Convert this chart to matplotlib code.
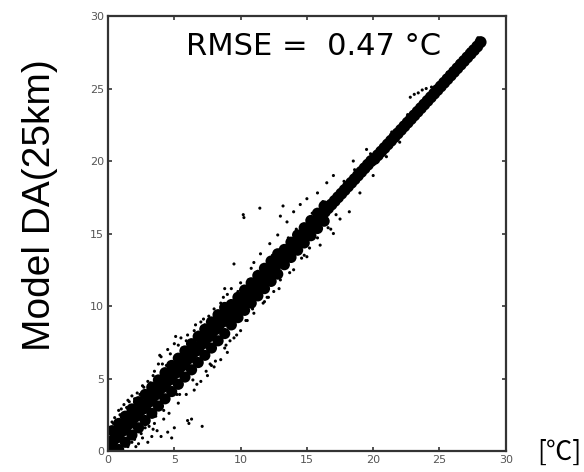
import matplotlib
matplotlib.use("Agg")
import matplotlib.pyplot as plt

# --- data read from the picture (observed vs model, deg C) ---
# centre of the dense band
obs_core = [0.1, 0.35, 0.6, 0.85, 1.1, 1.35, 1.6, 1.85, 2.1, 2.35, 2.6, 2.85, 3.1, 3.35,
            3.6, 3.85, 4.1, 4.35, 4.6, 4.85, 5.1, 5.35, 5.6, 5.85, 6.1, 6.35, 6.6, 6.85,
            7.1, 7.35, 7.6, 7.85, 8.1, 8.35, 8.6, 8.85, 9.1, 9.35, 9.6, 9.85, 10.1, 10.35,
            10.6, 10.85, 11.1, 11.35, 11.6, 11.85, 12.1, 12.35, 12.6, 12.85, 13.1, 13.35,
            13.6, 13.85, 14.1, 14.35, 14.6, 14.85, 15.1, 15.35, 15.6, 15.85, 16.1, 16.35,
            16.6, 16.85, 17.1, 17.35, 17.6, 17.85, 18.1, 18.35, 18.6, 18.85, 19.1, 19.35,
            19.6, 19.85, 20.1, 20.35, 20.6, 20.85, 21.1, 21.35, 21.6, 21.85, 22.1, 22.35,
            22.6, 22.85, 23.1, 23.35, 23.6, 23.85, 24.1, 24.35, 24.6, 24.85, 25.1, 25.35,
            25.6, 25.85, 26.1, 26.35, 26.6, 26.85, 27.1, 27.35, 27.6, 27.85, 28.1]
mod_core = [0.4, 0.7, 0.9, 1.2, 1.4, 1.7, 1.9, 2.2, 2.4, 2.7, 2.9, 3.2, 3.4, 3.7,
            3.9, 4.2, 4.4, 4.7, 4.9, 5.2, 5.4, 5.7, 5.9, 6.2, 6.4, 6.7, 6.9, 7.2,
            7.4, 7.7, 7.9, 8.2, 8.4, 8.7, 8.9, 9.2, 9.25, 9.5, 9.75, 10.0, 10.25, 10.5,
            10.75, 11.0, 11.25, 11.5, 11.75, 12.0, 12.25, 12.5, 12.75, 13.0, 13.25, 13.5,
            13.75, 14.0, 14.25, 14.5, 14.75, 15.0, 15.25, 15.5, 15.75, 16.0, 16.25, 16.5,
            16.75, 17.0, 17.25, 17.5, 17.75, 18.0, 18.25, 18.5, 18.75, 19.0, 19.25, 19.5,
            19.75, 20.0, 20.15, 20.4, 20.65, 20.9, 21.15, 21.4, 21.65, 21.9, 22.15, 22.4,
            22.65, 22.9, 23.15, 23.4, 23.65, 23.9, 24.15, 24.4, 24.65, 24.9, 25.15, 25.4,
            25.65, 25.9, 26.15, 26.4, 26.65, 26.9, 27.15, 27.4, 27.65, 27.9, 28.2]

# upper and lower edges of the wide lower part of the band
obs_wide = [0.3, 0.8, 1.3, 1.8, 2.3, 2.8, 3.3, 3.8, 4.3, 4.8, 5.3, 5.8, 6.3, 6.8, 7.3, 7.8,
            8.3, 8.8, 9.3, 9.8, 10.3, 10.8, 11.3, 11.8, 12.3, 12.8, 13.3, 13.8, 14.3, 14.8,
            15.3, 15.8, 16.3]
mod_wide_up = [1.4, 1.9, 2.4, 2.9, 3.4, 3.9, 4.4, 4.9, 5.4, 5.9, 6.4, 6.9, 7.4, 7.9, 8.4, 8.9,
               9.4, 9.9, 10.1, 10.6, 11.1, 11.6, 12.1, 12.6, 13.1, 13.6, 13.9, 14.4, 14.9, 15.4,
               15.9, 16.4, 16.9]
mod_wide_lo = [0.0, 0.1, 0.6, 1.1, 1.6, 2.1, 2.6, 3.1, 3.6, 4.1, 4.6, 5.1, 5.6, 6.1, 6.6, 7.1,
               7.6, 8.1, 8.7, 9.2, 9.7, 10.2, 10.7, 11.2, 11.7, 12.2, 12.85, 13.35, 13.85, 14.35,
               14.85, 15.35, 15.85]

# single points scattered around the band
obs_scatter = [0.1, 0.2, 0.3, 0.5, 0.8, 1.2, 1.5, 1.8, 0.6, 1.0, 1.5, 2.0, 2.3, 2.5, 2.8,
               3.0, 3.3, 3.5, 3.7, 4.0, 4.2, 4.5, 4.8, 5.0, 6.0, 6.3, 6.1, 7.1, 2.2, 2.6,
               3.0, 3.5, 3.8, 4.0, 4.5, 5.0, 5.5, 6.0, 6.5, 7.0, 7.6, 8.0, 8.5, 9.0, 6.5,
               7.0, 7.5, 8.0, 8.5, 9.0, 9.5, 10.0, 10.5, 11.0, 11.8, 12.5, 9.5, 10.0, 10.2,
               10.25, 11.45, 13.2, 13.0, 11.0, 11.5, 12.2, 12.8, 13.5, 14.0, 14.5, 15.0,
               15.8, 16.5, 13.0, 14.0, 15.0, 16.0, 17.0, 17.5, 18.2, 19.0, 20.0, 21.0,
               22.0, 17.0, 18.5, 22.8, 23.1, 23.4, 23.7, 24.0, 24.4, 24.8, 1.2, 3.6, 5.2,
               7.8, 9.2, 12.0, 14.8, 16.8, 19.5, 8.8, 10.8, 27.9, 28.3,
               0.4, 0.9, 1.4, 2.0, 2.4, 3.2, 4.4, 5.6, 6.8, 7.3, 8.2, 9.8, 10.6, 11.3,
               12.4, 13.6, 14.2, 15.4, 16.2, 17.8, 18.6, 19.8, 21.4, 22.6, 25.6, 26.4, 27.2,
               1.8, 3.1, 4.2, 5.4, 6.4, 7.7, 8.9, 10.4, 11.7, 12.9, 14.6, 15.8, 17.2,
               1.0, 1.6, 2.7, 3.4, 4.1, 4.7, 5.3, 5.9, 6.6, 7.2, 8.7, 9.3, 3.9, 5.1,
               2.1, 2.6, 3.4, 4.6, 5.3, 5.9, 6.7, 7.4, 8.1, 8.8, 9.7, 10.9, 12.1, 13.7,
               15.2, 16.6]
mod_scatter = [0.3, 1.5, 2.0, 2.3, 2.8, 3.2, 3.5, 3.8, 0.1, 0.2, 0.3, 0.8, 0.5, 1.2, 1.6,
               0.6, 1.0, 1.9, 1.4, 1.0, 2.2, 1.3, 0.9, 1.6, 2.1, 2.2, 1.9, 1.7, 4.0, 4.5,
               4.8, 5.5, 6.0, 6.5, 7.0, 7.4, 7.8, 8.0, 8.3, 8.9, 9.3, 9.8, 10.2, 10.8, 4.2,
               4.8, 5.2, 5.8, 6.3, 6.8, 7.8, 8.3, 9.0, 9.5, 10.3, 11.0, 12.9, 11.6, 16.3,
               16.1, 16.75, 16.9, 16.2, 13.0, 13.6, 14.3, 14.9, 15.8, 16.5, 17.0, 17.4,
               17.8, 18.5, 11.8, 12.5, 13.4, 14.2, 15.0, 16.0, 16.5, 17.8, 19.0, 20.3,
               21.3, 19.0, 20.0, 24.4, 24.6, 24.7, 24.9, 25.0, 25.1, 25.2, 0.4, 2.4, 3.9,
               5.9, 7.6, 10.6, 13.5, 15.3, 20.8, 11.2, 12.6, 28.5, 28.3,
               1.9, 2.5, 3.0, 3.6, 3.9, 4.7, 5.9, 7.1, 8.2, 8.7, 9.6, 11.0, 11.8, 12.4,
               13.5, 14.7, 15.3, 16.4, 17.2, 18.6, 19.4, 20.5, 22.0, 23.2, 26.1, 26.9, 27.7,
               0.6, 1.7, 2.8, 3.9, 4.9, 6.0, 7.3, 9.0, 10.2, 11.2, 13.3, 14.7, 16.3,
               2.9, 3.4, 4.4, 5.2, 6.0, 6.7, 7.3, 7.6, 8.7, 9.1, 10.6, 11.2, 6.6, 7.9,
               0.3, 0.9, 1.5, 2.6, 3.3, 3.9, 4.6, 5.5, 6.2, 7.1, 8.0, 9.8, 10.6, 12.3,
               14.0, 15.4]

rmse_text = "RMSE =  0.47 °C"

fig = plt.figure(figsize=(5.84, 4.72), dpi=100)
ax = fig.add_axes([0.185, 0.0445, 0.681, 0.9215])

ax.scatter(obs_core, mod_core, s=75, c="black", edgecolors="none")
ax.scatter(obs_wide, mod_wide_up, s=65, c="black", edgecolors="none")
ax.scatter(obs_wide, mod_wide_lo, s=65, c="black", edgecolors="none")
ax.scatter(obs_scatter, mod_scatter, s=5, c="black", edgecolors="none")

ax.set_xlim(0, 30)
ax.set_ylim(0, 30)
ax.set_xticks(range(0, 31, 5))
ax.set_yticks(range(0, 31, 5))
ax.tick_params(direction="in", length=3, width=1.2, top=True, right=True,
               labelsize=8, labelcolor="#555555", color="#333333", pad=3)
for sp in ax.spines.values():
    sp.set_linewidth(1.6)
    sp.set_color("#333333")

ax.text(5.85, 27.3, rmse_text, fontsize=22, ha="left", va="baseline")

fig.text(40 / 584, 1 - 205 / 472, "Model DA(25km)", rotation=90, fontsize=28,
         family="Liberation Sans", ha="center", va="center")
fig.text(559 / 584, 1 - 452 / 472, "[℃]", fontsize=19,
         family=["Noto Sans CJK JP", "DejaVu Sans"], ha="center", va="center")

fig.savefig("out.png", dpi=100)
